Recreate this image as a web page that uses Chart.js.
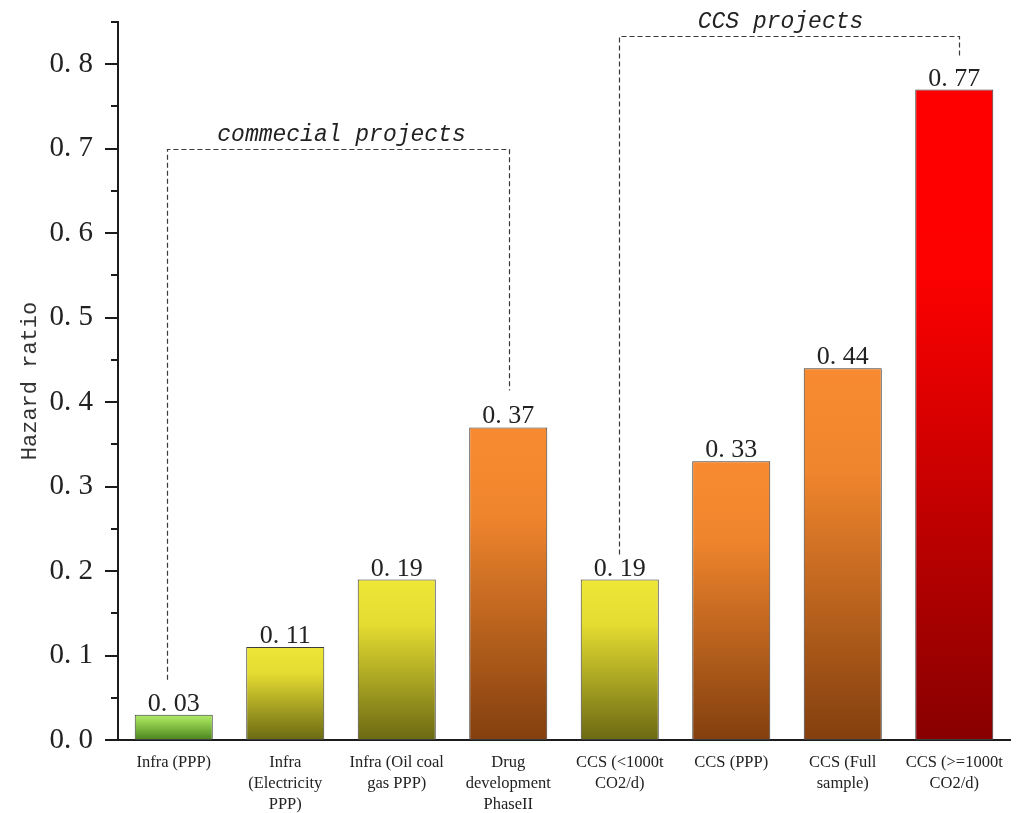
<!DOCTYPE html>
<html>
<head>
<meta charset="utf-8">
<script src="https://cdn.jsdelivr.net/npm/chart.js@4.4.1/dist/chart.umd.min.js"></script>
<style>
  html, body { margin: 0; padding: 0; background: #ffffff; }
  #wrap { width: 1017px; height: 813px; position: relative; }
</style>
</head>
<body>
<div id="wrap"><canvas id="chart"></canvas></div>
<script>
// Project categories (multi-line axis labels)
const categories = [
  ['Infra (PPP)'],
  ['Infra', '(Electricity', 'PPP)'],
  ['Infra (Oil coal', 'gas PPP)'],
  ['Drug', 'development', 'PhaseII'],
  ['CCS (<1000t', 'CO2/d)'],
  ['CCS (PPP)'],
  ['CCS (Full', 'sample)'],
  ['CCS (>=1000t', 'CO2/d)']
];

// Hazard ratio per category
const hazardRatios = [0.03, 0.11, 0.19, 0.37, 0.19, 0.33, 0.44, 0.77];

// Labelled y ticks
const yTicks = [0.0, 0.1, 0.2, 0.3, 0.4, 0.5, 0.6, 0.7, 0.8];

// Project groups marked by dashed brackets
const groupLabels = ['commecial projects', 'CCS projects'];
const groupFirst = [0, 4];
const groupLast = [3, 7];
const groupLevel = [0.70, 0.833];

// ---- styling ----
const MONO = '"Liberation Mono", "DejaVu Sans Mono", monospace';
const SERIF = '"Liberation Serif", "DejaVu Serif", serif';
const AXIS_COLOR = '#1c1c1c';
const TEXT_COLOR = '#222222';

// numbers are typeset with a wide decimal point
const wideDecimal = (v, digits) => Number(v).toFixed(digits).replace('.', '. ');

// gradient stops (top, upper, bottom) by hazard level
const TONES = {
  green:  ['#b0ea68', '#98d452', '#4a831d'],
  yellow: ['#eee737', '#e4dc31', '#6b6913'],
  orange: ['#f88b31', '#ef852d', '#833f0e'],
  red:    ['#ff0000', '#fd0000', '#880000']
};
function toneFor(v) {
  if (v < 0.05) return TONES.green;
  if (v < 0.25) return TONES.yellow;
  if (v < 0.6) return TONES.orange;
  return TONES.red;
}

// bracket geometry (pixel offsets relative to bar centres / bar tops)
const BRACKETS = [
  { dxStart: -7, dxEnd: 1, gapStart: 35, gapEnd: 37, textDx: 3 },
  { dxStart: -1, dxEnd: 5, gapStart: 25, gapEnd: 34, textDx: -9 }
];

const decorPlugin = {
  id: 'decor',
  afterDraw(chart) {
    const { ctx, chartArea } = chart;
    const xs = chart.scales.x;
    const ys = chart.scales.y;
    ctx.save();

    // major and minor ticks on the value axis
    ctx.strokeStyle = AXIS_COLOR;
    ctx.lineWidth = 2;
    for (let i = 0; i <= 17; i++) {
      const v = i * 0.05;
      const y = Math.round(ys.getPixelForValue(v));
      const len = (i % 2 === 0) ? 13 : 7;
      ctx.beginPath();
      ctx.moveTo(chartArea.left - len, y);
      ctx.lineTo(chartArea.left, y);
      ctx.stroke();
    }

    // value labels above bars
    ctx.fillStyle = TEXT_COLOR;
    ctx.font = '26px ' + SERIF;
    ctx.textAlign = 'center';
    ctx.textBaseline = 'alphabetic';
    const meta = chart.getDatasetMeta(0);
    hazardRatios.forEach((v, i) => {
      const bar = meta.data[i];
      ctx.fillText(wideDecimal(v, 2), bar.x, bar.y - 4);
    });

    // dashed group brackets
    ctx.strokeStyle = '#3a3a3a';
    ctx.lineWidth = 1.2;
    ctx.setLineDash([5, 3]);
    groupLabels.forEach((label, g) => {
      const b = BRACKETS[g];
      const first = groupFirst[g], last = groupLast[g];
      const x1 = Math.round(xs.getPixelForValue(first) + b.dxStart) + 0.5;
      const x2 = Math.round(xs.getPixelForValue(last) + b.dxEnd) + 0.5;
      const yTop = Math.round(ys.getPixelForValue(groupLevel[g])) + 0.5;
      const y1 = ys.getPixelForValue(hazardRatios[first]) - b.gapStart;
      const y2 = ys.getPixelForValue(hazardRatios[last]) - b.gapEnd;
      ctx.beginPath();
      ctx.moveTo(x1, y1);
      ctx.lineTo(x1, yTop);
      ctx.lineTo(x2, yTop);
      ctx.lineTo(x2, y2);
      ctx.stroke();

      ctx.save();
      ctx.setLineDash([]);
      ctx.fillStyle = TEXT_COLOR;
      ctx.font = 'italic 23px ' + MONO;
      ctx.textAlign = 'center';
      ctx.textBaseline = 'alphabetic';
      ctx.fillText(label, (x1 + x2) / 2 + b.textDx, yTop - 9);
      ctx.restore();
    });

    ctx.restore();
  }
};

function barGradient(context) {
  const chart = context.chart;
  if (context.type !== 'data' || !chart.chartArea) return toneFor(context.raw || 0)[0];
  const ys = chart.scales.y;
  const top = ys.getPixelForValue(context.raw);
  const bottom = ys.getPixelForValue(0);
  const tone = toneFor(context.raw);
  const g = chart.ctx.createLinearGradient(0, top, 0, bottom);
  g.addColorStop(0, tone[0]);
  g.addColorStop(0.28, tone[1]);
  g.addColorStop(1, tone[2]);
  return g;
}

new Chart(document.getElementById('chart'), {
  type: 'bar',
  data: {
    labels: categories,
    datasets: [{
      data: hazardRatios,
      backgroundColor: barGradient,
      borderColor: '#3c3c3c',
      borderWidth: 1,
      borderSkipped: false,
      barPercentage: 0.7,
      categoryPercentage: 1.0
    }]
  },
  options: {
    responsive: true,
    maintainAspectRatio: false,
    animation: false,
    devicePixelRatio: 1,
    layout: { padding: { left: 0, right: 7, top: 22, bottom: 0 } },
    plugins: {
      legend: { display: false },
      tooltip: { enabled: false }
    },
    scales: {
      x: {
        offset: true,
        afterFit: s => { s.height = 73; s.paddingLeft = 0; s.paddingRight = 0; },
        grid: { display: false, drawTicks: false },
        border: { display: true, color: AXIS_COLOR, width: 2 },
        ticks: {
          padding: 12.5,
          color: TEXT_COLOR,
          autoSkip: false,
          maxRotation: 0,
          font: { family: SERIF, size: 16.5, lineHeight: 1.27 }
        }
      },
      y: {
        min: 0,
        max: 0.85,
        afterBuildTicks: s => { s.ticks = yTicks.map(v => ({ value: v })); },
        afterFit: s => { s.width = 118; s.paddingTop = 0; s.paddingBottom = 0; },
        grid: { display: false, drawTicks: false },
        border: { display: true, color: AXIS_COLOR, width: 2 },
        ticks: {
          padding: 25,
          color: TEXT_COLOR,
          font: { family: SERIF, size: 29 },
          callback: v => wideDecimal(v, 1)
        },
        title: {
          display: true,
          text: 'Hazard ratio',
          color: '#333333',
          font: { family: MONO, size: 22 },
          padding: { top: 17, bottom: 0 }
        }
      }
    }
  },
  plugins: [decorPlugin]
});
</script>
</body>
</html>
